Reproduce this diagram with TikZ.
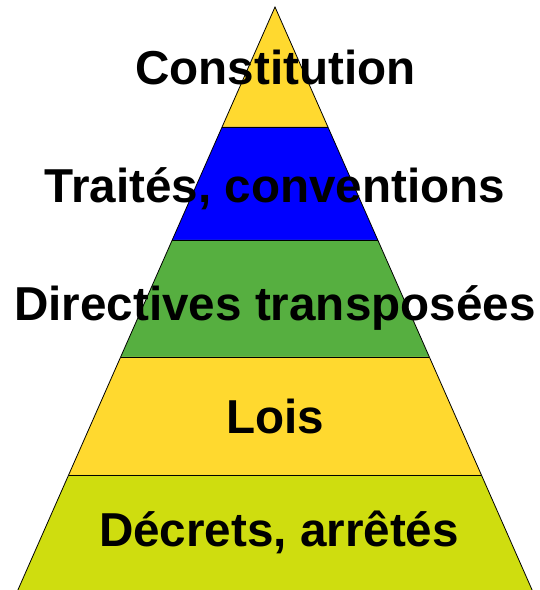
\documentclass[tikz,border=0pt]{standalone}
\usepackage{fontspec}
\setmainfont{Liberation Sans}
\usetikzlibrary{calc}
\definecolor{pyryellow}{RGB}{255,217,47}
\definecolor{pyrblue}{RGB}{0,0,255}
\definecolor{pyrgreen}{RGB}{86,175,64}
\definecolor{pyrlime}{RGB}{207,221,15}
\tikzset{
  band/.style={draw=black, line width=0.8pt, line join=miter},
  label/.style={anchor=base, font=\fontsize{47.6}{57}\selectfont\bfseries, text=black, inner sep=0pt}
}
\begin{document}
\begin{tikzpicture}[x=1pt,y=1pt]
\useasboundingbox (0,0) rectangle (540,590);
\coordinate (A) at (275,583);
\coordinate (BL) at (17,-2);
\coordinate (BR) at (533,-2);
% boundary points (y from top: 127, 240, 357, 475)
\foreach \n/\y in {1/127,2/240,3/357,4/475}{
  \pgfmathsetmacro{\t}{(\y-7)/585}
  \coordinate (L\n) at ($(A)!\t!(BL)$);
  \coordinate (R\n) at ($(A)!\t!(BR)$);
}
\fill[pyryellow] (A) -- (L1) -- (R1) -- cycle;
\fill[pyrblue] (L1) -- (L2) -- (R2) -- (R1) -- cycle;
\fill[pyrgreen] (L2) -- (L3) -- (R3) -- (R2) -- cycle;
\fill[pyryellow] (L3) -- (L4) -- (R4) -- (R3) -- cycle;
\fill[pyrlime] (L4) -- (BL) -- (BR) -- (R4) -- cycle;
\draw[band] (A) -- (BL) -- (BR) -- cycle;
\draw[band] (L1) -- (R1);
\draw[band] (L2) -- (R2);
\draw[band] (L3) -- (R3);
\draw[band] (L4) -- (R4);
\node[label] (t1) at (275.5,505) {Constitution};
\node[label] (t2) at (275,387) {Traités, conventions};
\node[label] (t3) at (275,269) {Directives transposées};
\node[label] (t4) at (275,156) {Lois};
\node[label] (t5) at (279,43) {Décrets, arrêtés};
\end{tikzpicture}
\end{document}
